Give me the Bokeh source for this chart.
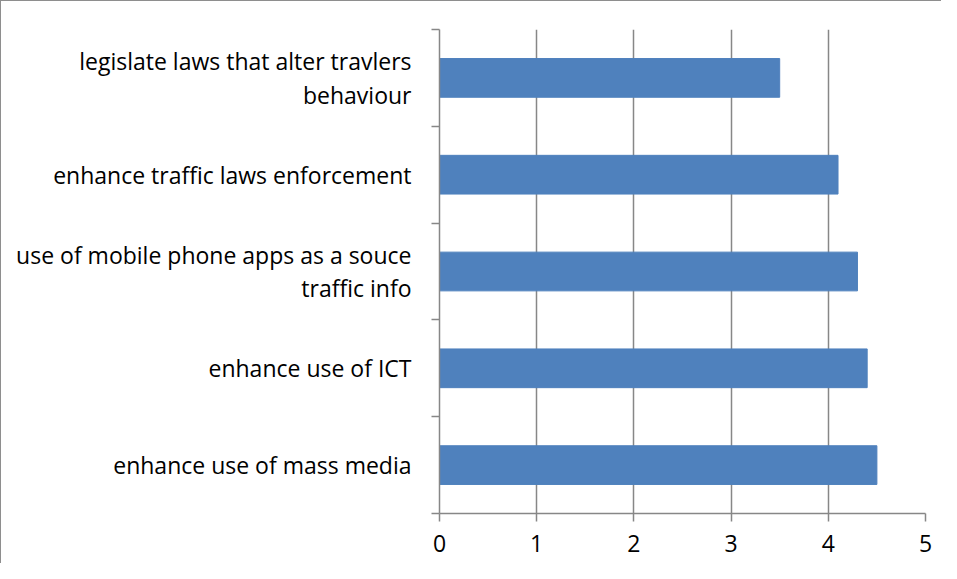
from bokeh.plotting import figure
from bokeh.models import FixedTicker
from bokeh.embed import file_html
from bokeh.resources import INLINE

categories = [
    "enhance use of mass media",
    "enhance use of ICT",
    "use of mobile phone apps as a souce\ntraffic info",
    "enhance traffic laws enforcement",
    "legislate laws that alter travlers\nbehaviour",
]
values = [4.5, 4.4, 4.3, 4.1, 3.5]
x_ticks = [0, 1, 2, 3, 4, 5]

positions = [i + 0.5 for i in range(len(categories))]
boundaries = [i for i in range(len(categories) + 1)]

FONT = "Open Sans"
GRAY = "#878787"

p = figure(width=941, height=563, x_range=(0, 5), y_range=(0, 5),
           output_backend="svg", toolbar_location=None,
           min_border_left=438, min_border_right=17,
           min_border_top=28, min_border_bottom=51)
p.styles = {"border-left": "1.5px solid #8e8e8e", "border-top": "1.5px solid #8e8e8e"}
p.outline_line_color = None
p.background_fill_color = "white"
p.border_fill_color = "white"

p.hbar(y=positions, right=values, left=0, height=0.4, color="#4f81bd")

# x axis
p.xaxis.ticker = FixedTicker(ticks=x_ticks)
p.xaxis.major_tick_out = 8
p.xaxis.major_tick_in = 0
p.xaxis.minor_tick_line_color = None
p.xaxis.axis_line_color = GRAY
p.xaxis.axis_line_width = 1.5
p.xaxis.major_tick_line_color = GRAY
p.xaxis.major_tick_line_width = 1.5
p.xaxis.major_label_text_font = FONT
p.xaxis.major_label_text_font_size = "23px"
p.xaxis.major_label_text_color = "black"
p.xaxis.major_label_standoff = 13

# y axis
p.yaxis.ticker = FixedTicker(ticks=positions, minor_ticks=boundaries)
p.yaxis.major_label_overrides = {pos: lab for pos, lab in zip(positions, categories)}
p.yaxis.major_tick_line_color = None
p.yaxis.major_tick_out = 0
p.yaxis.major_tick_in = 0
p.yaxis.minor_tick_out = 8
p.yaxis.minor_tick_in = 0
p.yaxis.minor_tick_line_color = GRAY
p.yaxis.minor_tick_line_width = 1.5
p.yaxis.axis_line_color = GRAY
p.yaxis.axis_line_width = 1.5
p.yaxis.major_label_standoff = 20
p.yaxis.major_label_text_font = FONT
p.yaxis.major_label_text_font_size = "23px"
p.yaxis.major_label_text_color = "black"
p.yaxis.major_label_text_line_height = 1.05
p.yaxis.major_label_text_align = "center"

p.xgrid.ticker = FixedTicker(ticks=x_ticks)
p.xgrid.grid_line_color = GRAY
p.xgrid.grid_line_width = 1.5
p.ygrid.grid_line_color = None

open("out.html", "w").write(file_html(p, INLINE))
